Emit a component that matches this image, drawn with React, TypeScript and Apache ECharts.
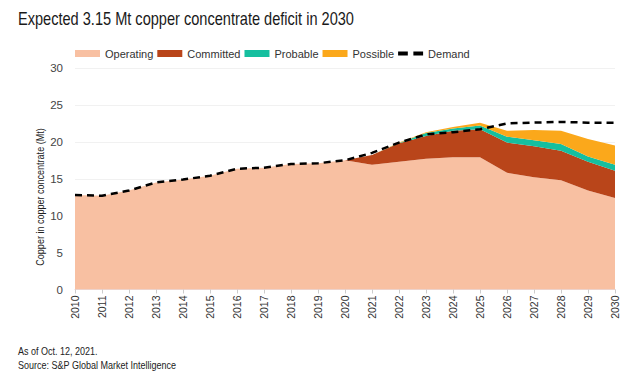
import React, { useEffect, useRef } from "react";
import * as echarts from "echarts";

const years = ["2010","2011","2012","2013","2014","2015","2016","2017","2018","2019","2020","2021","2022","2023","2024","2025","2026","2027","2028","2029","2030"];
const operating = [12.8, 12.7, 13.4, 14.5, 14.9, 15.4, 16.35, 16.5, 17.0, 17.1, 17.5, 16.9, 17.3, 17.7, 17.9, 17.9, 15.8, 15.2, 14.8, 13.4, 12.4];
const committed = [0, 0, 0, 0, 0, 0, 0, 0, 0, 0, 0, 1.3, 2.5, 3.1, 3.6, 3.8, 4.1, 4.2, 4.0, 3.9, 3.7];
const probable = [0, 0, 0, 0, 0, 0, 0, 0, 0, 0, 0, 0, 0.05, 0.4, 0.3, 0.5, 0.8, 0.8, 0.9, 0.7, 0.8];
const possible = [0, 0, 0, 0, 0, 0, 0, 0, 0, 0, 0, 0, 0.05, 0.1, 0.2, 0.4, 0.8, 1.4, 1.8, 2.4, 2.6];
const demand = [12.8, 12.7, 13.4, 14.5, 14.9, 15.4, 16.35, 16.5, 17.0, 17.1, 17.5, 18.5, 19.9, 21.0, 21.3, 21.7, 22.5, 22.6, 22.7, 22.6, 22.6];
const yTicks = [0, 5, 10, 15, 20, 25, 30];

const FONT = "'Liberation Sans', Arial, sans-serif";

export default function App() {
  const ref = useRef<HTMLDivElement>(null);
  useEffect(() => {
    if (!ref.current) return;
    const chart = echarts.init(ref.current, null, { renderer: "svg" });
    const area = (name: string, data: number[], color: string) => ({
      name,
      type: "line",
      stack: "supply",
      data,
      showSymbol: false,
      symbol: "none",
      lineStyle: { width: 0, color },
      itemStyle: { color },
      areaStyle: { color, opacity: 1 },
      emphasis: { disabled: true },
    });
    chart.setOption({
      animation: false,
      backgroundColor: "#ffffff",
      textStyle: { fontFamily: FONT },
      legend: {
        left: 70,
        top: 43,
        itemWidth: 25,
        itemHeight: 7,
        itemGap: 4,
        textStyle: { fontSize: 11, color: "#333", fontFamily: FONT },
        data: [
          { name: "Operating", icon: "rect" },
          { name: "Committed", icon: "rect" },
          { name: "Probable", icon: "rect" },
          { name: "Possible", icon: "rect" },
          { name: "Demand", icon: "path://M0,0h7v3h-7z M11,0h7v3h-7z" },
        ],
      },
      grid: { left: 75, right: 23, top: 68, bottom: 100.5, containLabel: false },
      xAxis: {
        type: "category",
        data: years,
        boundaryGap: false,
        axisLine: { lineStyle: { color: "#ead8d8", width: 1 } },
        axisTick: { show: true, lineStyle: { color: "#ccc" }, length: 4 },
        axisLabel: { rotate: 90, fontSize: 10.5, color: "#333", margin: 6, fontFamily: FONT },
      },
      yAxis: {
        type: "value",
        min: yTicks[0],
        max: yTicks[yTicks.length - 1],
        interval: 5,
        axisLine: { show: false },
        axisTick: { show: false },
        axisLabel: { fontSize: 11.5, color: "#444", margin: 12, fontFamily: FONT },
        splitLine: { lineStyle: { color: "#f1f1f1", width: 1 } },
      },
      series: [
        area("Operating", operating, "#F8C0A2"),
        area("Committed", committed, "#B9451A"),
        area("Probable", probable, "#15BF9F"),
        area("Possible", possible, "#FBA81B"),
        {
          name: "Demand",
          type: "line",
          data: demand,
          showSymbol: false,
          symbol: "none",
          z: 10,
          lineStyle: { color: "#000", width: 2.5, type: [7, 5] },
          itemStyle: { color: "#000" },
          emphasis: { disabled: true },
        },
      ],
      graphic: [
        {
          type: "text", x: 18, y: 9, scaleX: 0.81,
          style: { text: "Expected 3.15 Mt copper concentrate deficit in 2030", fontSize: 18, fill: "#1a1a1a", fontFamily: FONT },
        },
        {
          type: "text", x: 40, y: 197, rotation: Math.PI / 2, scaleX: 0.86,
          style: { text: "Copper in copper concentrate (Mt)", fontSize: 10.5, fill: "#222", fontFamily: FONT, align: "center", verticalAlign: "middle" },
        },
        { type: "text", x: 18, y: 346, scaleX: 0.82, style: { text: "As of Oct. 12, 2021.", fontSize: 11, fill: "#222", fontFamily: FONT } },
        { type: "text", x: 18, y: 360, scaleX: 0.82, style: { text: "Source: S&P Global Market Intelligence", fontSize: 11, fill: "#222", fontFamily: FONT } },
      ],
    });
    return () => chart.dispose();
  }, []);
  return <div ref={ref} style={{ position: "fixed", left: 0, top: 0, width: 638, height: 390 }} />;
}
